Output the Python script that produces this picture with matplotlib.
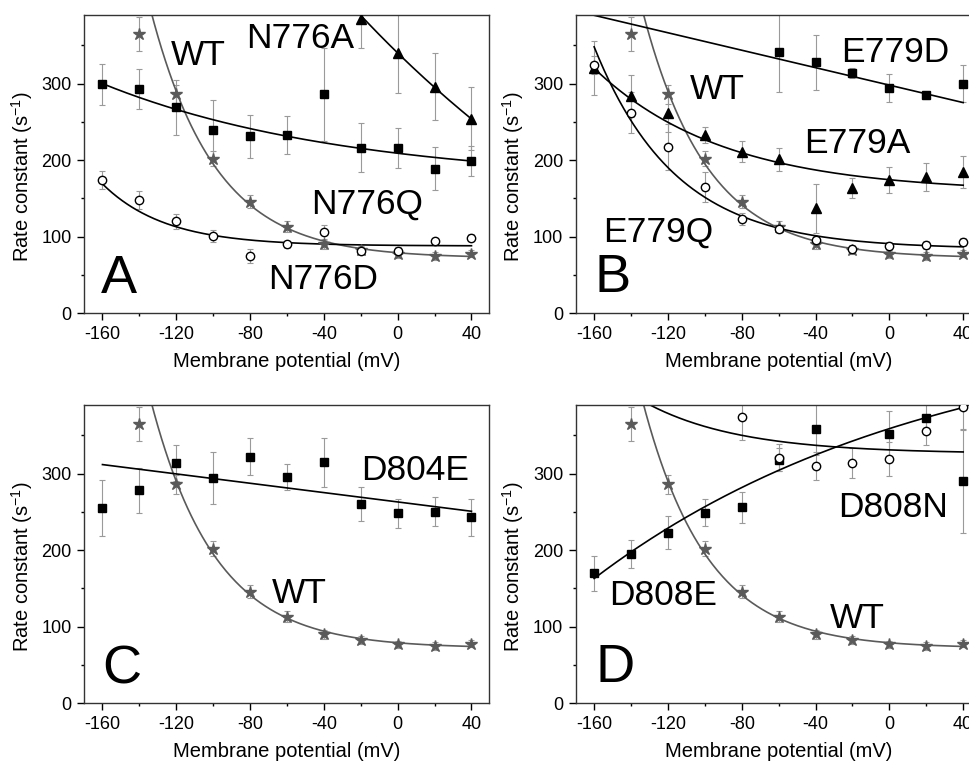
import numpy as np
import matplotlib
matplotlib.use("Agg")
import matplotlib.pyplot as plt
from matplotlib.ticker import MultipleLocator

plt.rcParams['font.family'] = ['Liberation Sans', 'DejaVu Sans']
plt.rcParams['axes.unicode_minus'] = False
plt.rcParams['mathtext.fontset'] = 'custom'
plt.rcParams['mathtext.rm'] = 'Liberation Sans'
plt.rcParams['mathtext.default'] = 'regular'

# ---- Data (membrane potential in mV, rate constant in 1/s) ----
V_ALL = [-160, -140, -120, -100, -80, -60, -40, -20, 0, 20, 40]

# WT, shown in every panel
wt_v   = [-140, -120, -100, -80, -60, -40, -20, 0, 20, 40]
wt_k   = [365, 286, 202, 146, 113, 90, 83, 77, 75, 78]
wt_err = [22, 12, 10, 8, 7, 6, 5, 5, 5, 5]

# Panel A
n776q_k   = [299, 293, 269, 240, 231, 233, 286, 216, 216, 189, 199]
n776q_err = [27, 26, 36, 38, 28, 25, 61, 32, 26, 28, 20]
n776a_v   = [-20, 0, 20, 40]
n776a_k   = [385, 340, 296, 254]
n776a_err = [38, 52, 44, 41]
n776d_k   = [174, 148, 120, 101, 75, 90, 106, 82, 82, 94, 99]
n776d_err = [12, 12, 10, 8, 9, 5, 9, 5, 5, 5, 5]

# Panel B
e779d_v   = [-60, -40, -20, 0, 20, 40]
e779d_k   = [341, 328, 314, 294, 285, 300]
e779d_err = [52, 36, 7, 18, 5, 24]
e779a_k   = [320, 284, 261, 233, 211, 201, 137, 164, 174, 178, 185]
e779a_err = [35, 27, 24, 10, 14, 15, 32, 13, 17, 18, 21]
e779q_k   = [324, 262, 217, 165, 123, 110, 96, 84, 88, 89, 93]
e779q_err = [12, 27, 30, 19, 8, 5, 5, 5, 5, 5, 5]

# Panel C
d804e_k   = [255, 278, 314, 294, 322, 296, 315, 260, 248, 250, 243]
d804e_err = [36, 29, 24, 34, 24, 17, 32, 22, 19, 19, 24]

# Panel D
d808e_v   = [-160, -140, -120, -100, -80, -60, -40, 0, 20, 40]
d808e_k   = [170, 195, 223, 249, 256, 318, 358, 352, 373, 290]
d808e_err = [23, 18, 22, 18, 20, 15, 34, 30, 20, 68]
d808n_v   = [-80, -60, -40, -20, 0, 20, 40]
d808n_k   = [374, 321, 310, 314, 319, 356, 387]
d808n_err = [30, 18, 18, 20, 22, 18, 30]

# Fitted curves: exponential c + A*exp(-(V - V0)/k)  or  linear a + b*V
wt_fit    = ("exp", 72, 218, -120, 35)
n776q_fit = ("exp", 170, 130, -160, 133)
n776a_fit = ("exp", -200, 540, 0, 230)
n776d_fit = ("exp", 88, 81, -160, 34)
e779d_fit = ("lin", 298, -0.57)
e779a_fit = ("exp", 158, 162, -160, 70)
e779q_fit = ("exp", 84, 264, -160, 44)
d804e_fit = ("lin", 263, -0.305)
d808e_fit = ("exp", 500, -337, -160, 184)
d808n_fit = ("exp", 326, 64, -130, 51)

BLACK = "black"
GREY = "#5a5a5a"
ERRC = "#9a9a9a"


def fit_curve(params, v):
    if params[0] == "lin":
        return params[1] + params[2] * v
    _, c, a, v0, k = params
    return c + a * np.exp(-(v - v0) / k)


def draw(ax, v, k, err, marker, fit, face=BLACK, edge=BLACK, ms=5.5, lcol=BLACK):
    vv = np.linspace(-160, 40, 300)
    ax.plot(vv, fit_curve(fit, vv), color=lcol, lw=1.2, zorder=2)
    ax.errorbar(v, k, yerr=err, fmt="none", ecolor=ERRC, elinewidth=0.8,
                capsize=2.4, capthick=0.8, zorder=1)
    ax.plot(v, k, ls="none", marker=marker, ms=ms, mfc=face, mec=edge,
            mew=1.0, zorder=3)


def draw_wt(ax):
    draw(ax, wt_v, wt_k, wt_err, "*", wt_fit, face=GREY, edge=GREY, ms=9, lcol=GREY)


def style(ax):
    ax.set_xlim(-170, 49.5)
    ax.set_ylim(0, 390)
    ax.xaxis.set_major_locator(MultipleLocator(40))
    ax.xaxis.set_minor_locator(MultipleLocator(20))
    ax.yaxis.set_major_locator(MultipleLocator(100))
    ax.yaxis.set_minor_locator(MultipleLocator(50))
    ax.tick_params(which="major", direction="out", length=5, width=1,
                   labelsize=13, pad=4)
    ax.tick_params(which="minor", direction="out", length=2.5, width=1)
    for s in ax.spines.values():
        s.set_linewidth(1.0)
        s.set_color("#333333")
    ax.set_xlabel("Membrane potential (mV)", fontsize=14.5, va="top")
    ax.xaxis.set_label_coords(0.5, -0.128)
    ax.set_ylabel("Rate constant (s$^{-1}$)", fontsize=14.5)
    ax.yaxis.set_label_coords(-0.122, 0.456)


NAME_FS = 25.5
LETTER_FS = 39

W, H = 970, 764
fig = plt.figure(figsize=(W / 100, H / 100), dpi=100)

def add_ax(left_px, top_px):
    return fig.add_axes([left_px / W, 1 - (top_px + 298.6) / H, 405 / W, 298.6 / H])

axA = add_ax(84, 14.7)
axB = add_ax(575.7, 14.7)
axC = add_ax(84, 404.7)
axD = add_ax(575.7, 404.7)

# ---- Panel A ----
style(axA)
draw_wt(axA)
draw(axA, V_ALL, n776q_k, n776q_err, "s", n776q_fit)
draw(axA, n776a_v, n776a_k, n776a_err, "^", n776a_fit, ms=7)
draw(axA, V_ALL, n776d_k, n776d_err, "o", n776d_fit, face="white", ms=6)
axA.text(-123, 324, "WT", fontsize=NAME_FS, va="baseline")
axA.text(-82, 346, "N776A", fontsize=NAME_FS, va="baseline")
axA.text(-47, 130, "N776Q", fontsize=NAME_FS, va="baseline")
axA.text(-70, 32, "N776D", fontsize=NAME_FS, va="baseline")
axA.text(-161, 26, "A", fontsize=LETTER_FS, va="baseline")

# ---- Panel B ----
style(axB)
draw_wt(axB)
draw(axB, e779d_v, e779d_k, e779d_err, "s", e779d_fit)
draw(axB, V_ALL, e779a_k, e779a_err, "^", e779a_fit, ms=7)
draw(axB, V_ALL, e779q_k, e779q_err, "o", e779q_fit, face="white", ms=6)
axB.text(-26, 328, "E779D", fontsize=NAME_FS, va="baseline")
axB.text(-108, 280, "WT", fontsize=NAME_FS, va="baseline")
axB.text(-46, 209, "E779A", fontsize=NAME_FS, va="baseline")
axB.text(-155, 93, "E779Q", fontsize=NAME_FS, va="baseline")
axB.text(-160, 28, "B", fontsize=LETTER_FS, va="baseline")

# ---- Panel C ----
style(axC)
draw_wt(axC)
draw(axC, V_ALL, d804e_k, d804e_err, "s", d804e_fit)
axC.text(-20, 291, "D804E", fontsize=NAME_FS, va="baseline")
axC.text(-68, 131, "WT", fontsize=NAME_FS, va="baseline")
axC.text(-160, 26, "C", fontsize=LETTER_FS, va="baseline")

# ---- Panel D ----
style(axD)
draw_wt(axD)
draw(axD, d808e_v, d808e_k, d808e_err, "s", d808e_fit)
draw(axD, d808n_v, d808n_k, d808n_err, "o", d808n_fit, face="white", ms=6)
axD.text(-28, 243, "D808N", fontsize=NAME_FS, va="baseline")
axD.text(-152, 128, "D808E", fontsize=NAME_FS, va="baseline")
axD.text(-32, 98, "WT", fontsize=NAME_FS, va="baseline")
axD.text(-159, 28, "D", fontsize=LETTER_FS, va="baseline")

fig.savefig("out.png", dpi=100)
